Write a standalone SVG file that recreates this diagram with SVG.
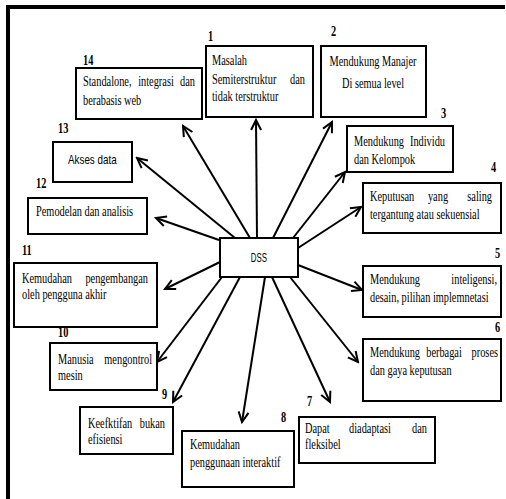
<svg xmlns="http://www.w3.org/2000/svg" width="506" height="499" viewBox="0 0 506 499">
<defs>
<style>
.box{fill:#fff;stroke:#000;stroke-width:2}
.t{font-family:"Liberation Serif","Times New Roman",serif;font-size:15px;fill:#000}
.n{font-family:"Liberation Serif","Times New Roman",serif;font-size:15px;font-weight:bold;fill:#000}
.s{font-family:"Liberation Sans",Arial,sans-serif;font-size:12px;fill:#000}
.e{text-anchor:end}
.m{text-anchor:middle}
.c{stroke:#000;stroke-width:2;fill:none}
</style>
<marker id="ah" viewBox="-12 -7 14 14" markerWidth="14" markerHeight="14" refX="0" refY="0" orient="auto" markerUnits="userSpaceOnUse">
<path d="M-10,-5 L0,0 L-10,5" fill="none" stroke="#000" stroke-width="2"/>
</marker>
</defs>
<rect width="506" height="499" fill="#fff"/>
<g id="frame">
<line x1="6" y1="7" x2="505" y2="7" stroke="#000" stroke-width="4"/>
<line x1="8" y1="5" x2="8" y2="499" stroke="#000" stroke-width="4"/>
</g>
<g id="connectors">
<line class="c" x1="257" y1="238" x2="256" y2="120" marker-end="url(#ah)"/>
<line class="c" x1="273" y1="238" x2="332" y2="122" marker-end="url(#ah)"/>
<line class="c" x1="293" y1="238" x2="345" y2="172" marker-end="url(#ah)"/>
<line class="c" x1="298" y1="248" x2="361" y2="207" marker-end="url(#ah)"/>
<line class="c" x1="298" y1="265" x2="362" y2="290" marker-end="url(#ah)"/>
<line class="c" x1="290" y1="277" x2="358" y2="362" marker-end="url(#ah)"/>
<line class="c" x1="272" y1="277" x2="330" y2="402" marker-end="url(#ah)"/>
<line class="c" x1="265" y1="277" x2="242" y2="422" marker-end="url(#ah)"/>
<line class="c" x1="240" y1="277" x2="173" y2="402" marker-end="url(#ah)"/>
<line class="c" x1="222" y1="277" x2="157" y2="362" marker-end="url(#ah)"/>
<line class="c" x1="220" y1="262" x2="165" y2="289" marker-end="url(#ah)"/>
<line class="c" x1="219" y1="240" x2="156" y2="218" marker-end="url(#ah)"/>
<line class="c" x1="235" y1="238" x2="137" y2="158" marker-end="url(#ah)"/>
<line class="c" x1="250" y1="238" x2="183" y2="126" marker-end="url(#ah)"/>
</g>
<g id="dss">
<rect class="box" x="220" y="238" width="78" height="39"/>
<text class="s m" transform="translate(259,262) scale(0.66,1)">DSS</text>
</g>
<g id="n1">
<rect class="box" x="206" y="46" width="107" height="71"/>
<text class="n" transform="translate(208,41) scale(0.69,1)">1</text>
<text class="t" transform="translate(212,65) scale(0.69,1)">Masalah</text>
<text class="t" transform="translate(212,84) scale(0.69,1)">Semiterstruktur</text>
<text class="t e" transform="translate(305,84) scale(0.69,1)">dan</text>
<text class="t" transform="translate(212,101) scale(0.69,1)">tidak terstruktur</text>
</g>
<g id="n2">
<rect class="box" x="321" y="46" width="105" height="71"/>
<text class="n" transform="translate(331,36) scale(0.69,1)">2</text>
<text class="t m" transform="translate(373,66) scale(0.69,1)">Mendukung Manajer</text>
<text class="t m" transform="translate(373,88) scale(0.69,1)">Di semua level</text>
</g>
<g id="n3">
<rect class="box" x="347" y="126" width="106" height="46"/>
<text class="n" transform="translate(441,118) scale(0.69,1)">3</text>
<text class="t" transform="translate(354,146) scale(0.69,1)">Mendukung</text>
<text class="t e" transform="translate(445,146) scale(0.69,1)">Individu</text>
<text class="t" transform="translate(354,164) scale(0.69,1)">dan Kelompok</text>
</g>
<g id="n4">
<rect class="box" x="363" y="183" width="138" height="50"/>
<text class="n" transform="translate(491,172) scale(0.69,1)">4</text>
<text class="t" transform="translate(370,201) scale(0.69,1)">Keputusan</text>
<text class="t m" transform="translate(438,201) scale(0.69,1)">yang</text>
<text class="t e" transform="translate(492,201) scale(0.69,1)">saling</text>
<text class="t" transform="translate(370,219) scale(0.69,1)">tergantung atau sekuensial</text>
</g>
<g id="n5">
<rect class="box" x="363" y="266" width="138" height="51"/>
<text class="n" transform="translate(495,258) scale(0.69,1)">5</text>
<text class="t" transform="translate(370,284) scale(0.69,1)">Mendukung</text>
<text class="t e" transform="translate(497,284) scale(0.69,1)">inteligensi,</text>
<text class="t" transform="translate(370,302) scale(0.69,1)">desain, pilihan implemnetasi</text>
</g>
<g id="n6">
<rect class="box" x="363" y="339" width="138" height="62"/>
<text class="n" transform="translate(495,332) scale(0.69,1)">6</text>
<text class="t" transform="translate(370,357) scale(0.69,1)">Mendukung</text>
<text class="t m" transform="translate(444,357) scale(0.69,1)">berbagai</text>
<text class="t e" transform="translate(498,357) scale(0.69,1)">proses</text>
<text class="t" transform="translate(370,375) scale(0.69,1)">dan gaya keputusan</text>
</g>
<g id="n7">
<rect class="box" x="299" y="417" width="136" height="46"/>
<text class="n" transform="translate(307,406) scale(0.69,1)">7</text>
<text class="t" transform="translate(305,433) scale(0.69,1)">Dapat</text>
<text class="t m" transform="translate(370,433) scale(0.69,1)">diadaptasi</text>
<text class="t e" transform="translate(427,433) scale(0.69,1)">dan</text>
<text class="t" transform="translate(305,449) scale(0.69,1)">fleksibel</text>
</g>
<g id="n8">
<rect class="box" x="182" y="431" width="112" height="56"/>
<text class="n" transform="translate(281,422) scale(0.69,1)">8</text>
<text class="t" transform="translate(190,449) scale(0.69,1)">Kemudahan</text>
<text class="t" transform="translate(190,467) scale(0.69,1)">penggunaan interaktif</text>
</g>
<g id="n9">
<rect class="box" x="80" y="407" width="93" height="47"/>
<text class="n" transform="translate(162,399) scale(0.69,1)">9</text>
<text class="t" transform="translate(88,428) scale(0.69,1)">Keefktifan</text>
<text class="t e" transform="translate(165,428) scale(0.69,1)">bukan</text>
<text class="t" transform="translate(88,444) scale(0.69,1)">efisiensi</text>
</g>
<g id="n10">
<rect class="box" x="50" y="343" width="107" height="47"/>
<text class="n" transform="translate(58,337) scale(0.69,1)">10</text>
<text class="t" transform="translate(58,364) scale(0.69,1)">Manusia</text>
<text class="t e" transform="translate(152,364) scale(0.69,1)">mengontrol</text>
<text class="t" transform="translate(58,380) scale(0.69,1)">mesin</text>
</g>
<g id="n11">
<rect class="box" x="14" y="263" width="143" height="64"/>
<text class="n" transform="translate(22,255) scale(0.69,1)">11</text>
<text class="t" transform="translate(22,283) scale(0.69,1)">Kemudahan</text>
<text class="t e" transform="translate(148,283) scale(0.69,1)">pengembangan</text>
<text class="t" transform="translate(22,299) scale(0.69,1)">oleh pengguna akhir</text>
</g>
<g id="n12">
<rect class="box" x="28" y="198" width="119" height="36"/>
<text class="n" transform="translate(36,188) scale(0.69,1)">12</text>
<text class="t" transform="translate(36,216) scale(0.69,1)">Pemodelan dan analisis</text>
</g>
<g id="n13">
<rect class="box" x="53" y="142" width="79" height="40"/>
<text class="n" transform="translate(58,133) scale(0.69,1)">13</text>
<text class="s" transform="translate(68,164) scale(0.82,1)">Akses data</text>
</g>
<g id="n14">
<rect class="box" x="76" y="68" width="126" height="51"/>
<text class="n" transform="translate(83,65) scale(0.69,1)">14</text>
<text class="t" transform="translate(83,86) scale(0.69,1)">Standalone,</text>
<text class="t m" transform="translate(156,86) scale(0.69,1)">integrasi</text>
<text class="t e" transform="translate(195,86) scale(0.69,1)">dan</text>
<text class="t" transform="translate(83,105) scale(0.69,1)">berabasis web</text>
</g>
</svg>
